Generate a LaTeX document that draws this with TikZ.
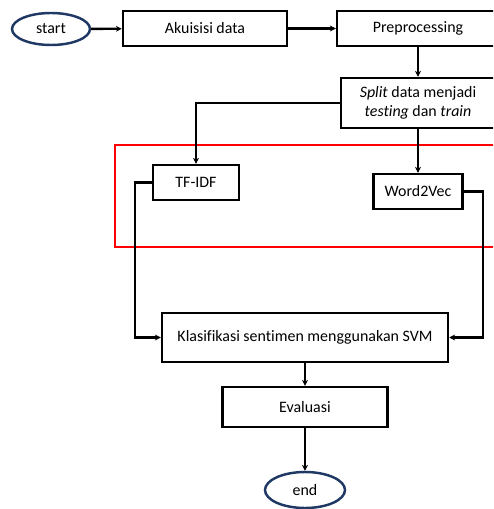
\documentclass[tikz,border=0pt]{standalone}
\usepackage{fontspec}
\setmainfont{Carlito}[Ligatures=NoCommon]
\usepackage{tikz}
\usetikzlibrary{arrows.meta, shapes.geometric}

\definecolor{navy}{RGB}{31,56,100}
\tikzset{
    proc/.style={draw, line width=2.1pt, rectangle, align=center, minimum height=1.05cm},
    term/.style={draw=navy, line width=2.1pt, ellipse, minimum width=2.34cm, minimum height=0.96cm},
    flow/.style={->, line width=2pt}
}

\begin{document}
\begin{tikzpicture}[x=0.03cm, y=-0.03cm, >={Stealth[length=5pt,width=5pt]}, font=\fontsize{13.6}{16}\selectfont]
    \clip (0,0) rectangle (493,509);
    \node[term] (start) at (51,29) {start};
    \node[proc, minimum width=4.92cm] (akuisisi) at (205,28.5) {Akuisisi data};
    \node[proc, minimum width=4.86cm] (prep) at (418,28.5) {Preprocessing};
    \node[proc, minimum width=4.62cm, minimum height=1.5cm] (split) at (418,103) {\textit{Split} data menjadi\\\textit{testing} dan \textit{train}};
    \node[proc, minimum width=2.58cm] (tfidf) at (196,182.5) {TF-IDF};
    \node[proc, minimum width=2.67cm] (w2v) at (418,191.5) {Word2Vec};
    \node[proc, minimum width=8.58cm, minimum height=1.47cm] (svm) at (305,337.5) {Klasifikasi sentimen menggunakan SVM};
    \node[proc, minimum width=4.95cm, minimum height=1.2cm] (eval) at (305,407) {Evaluasi};
    \node[term, minimum width=2.4cm, minimum height=1.08cm] (end) at (305,490) {end};
    \draw[red, line width=1.7pt] (115,145) rectangle (500,247);
    \draw[flow] (start) -- (akuisisi);
    \draw[flow] (akuisisi) -- (prep);
    \draw[flow] (prep) -- (split);
    \draw[flow] (split.west) -| (tfidf.north);
    \draw[flow] (split) -- (w2v);
    \draw[flow] (tfidf.west) -- ++(-17,0) |- (svm.west);
    \draw[flow] (w2v.east) -- ++(19,0) |- (svm.east);
    \draw[flow] (svm) -- (eval);
    \draw[flow] (eval) -- (end);
\end{tikzpicture}
\end{document}
